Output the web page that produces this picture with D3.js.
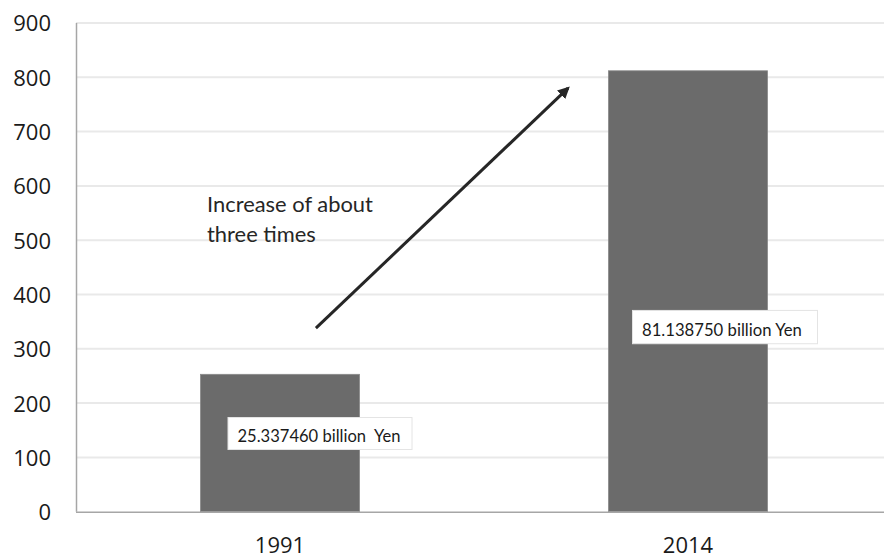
<!DOCTYPE html>
<html><head><meta charset="utf-8">
<script src="https://cdn.jsdelivr.net/npm/d3@7"></script>
<style>body{margin:0;background:#fff}svg{display:block}</style>
</head><body>
<svg id="c" width="884" height="558"></svg>
<script>
// ---- data ----
const categories = ["1991", "2014"];
const values = [253, 812];
const yTicks = [0, 100, 200, 300, 400, 500, 600, 700, 800, 900];
const barLabels = ["25.337460 billion  Yen", "81.138750 billion Yen"];
const barLabelValues = [144, 340];          // vertical centre of each label, in axis units
const annotationLines = ["Increase of about", "three times"];
const arrowFrom = {t: 0.088, v: 338};       // t: 0 = 1991 centre, 1 = 2014 centre
const arrowTo = {t: 0.706, v: 780};

// ---- layout ----
const svg = d3.select("#c");
const mLeft = 76, mTop = 23, mBottom = 511.7, mRight = 892;
const x = d3.scaleBand().domain(categories).range([mLeft, mRight]).paddingInner(0.61).paddingOuter(0.305);
const y = d3.scaleLinear().domain([0, 900]).range([mBottom, mTop]);
const cx = c => x(c) + x.bandwidth() / 2;
const tScale = d3.scaleLinear().domain([0, 1]).range([cx(categories[0]), cx(categories[1])]);

function fit(sel, w) {
  const n = sel.node(); const fs = parseFloat(sel.attr("font-size"));
  const len = n.getComputedTextLength();
  sel.attr("font-size", fs * w / len);
}

// gridlines
svg.append("g").selectAll("line").data(yTicks.filter(d => d > 0)).join("line")
  .attr("x1", mLeft).attr("x2", 884).attr("y1", d => y(d)).attr("y2", d => y(d))
  .attr("stroke", "#e9e9e9").attr("stroke-width", 2);

// y axis
const ya = svg.append("g").attr("transform", `translate(${mLeft},0)`)
  .call(d3.axisLeft(y).tickValues(yTicks).tickSize(0).tickPadding(25));
ya.select(".domain").attr("stroke", "#a6a6a6").attr("stroke-width", 1.5).attr("d", `M0.5,${mTop}V${mBottom}`);
ya.selectAll("text").attr("font-family", "'Open Sans'").attr("font-size", 22).attr("fill", "#1a1a1a").attr("dy", "0.36em");

// bars
svg.append("g").selectAll("rect").data(values).join("rect")
  .attr("x", (d, i) => x(categories[i])).attr("width", x.bandwidth())
  .attr("y", d => y(d)).attr("height", d => y(0) - y(d))
  .attr("fill", "#6b6b6b").attr("stroke", "#8a8a8a").attr("stroke-width", 0.8);

// x axis
const xa = svg.append("g").attr("transform", `translate(0,${mBottom})`)
  .call(d3.axisBottom(x).tickSize(0).tickPadding(26));
xa.select(".domain").attr("stroke", "#a6a6a6").attr("stroke-width", 1.5).attr("d", `M${mLeft},0.5H884`);
xa.selectAll("text").attr("font-family", "'Open Sans'").attr("font-size", 22).attr("fill", "#1a1a1a");

// bar labels
const boxW = [184, 185], boxH = [32, 33.3], txtW = [163, 160], offX = [40, 37];
barLabels.forEach((t, i) => {
  const bx = cx(categories[i]) + offX[i] - boxW[i] / 2;
  const by = y(barLabelValues[i]) - boxH[i] / 2;
  svg.append("rect").attr("x", bx).attr("y", by).attr("width", boxW[i]).attr("height", boxH[i])
    .attr("fill", "#fff").attr("stroke", "#e4e4e4").attr("stroke-width", 1);
  const tx = svg.append("text").attr("x", bx + 9.5).attr("y", by + boxH[i] - 8)
    .attr("font-family", "Lato").attr("font-size", 16).attr("fill", "#1a1a1a")
    .style("white-space", "pre").text(t);
  fit(tx, txtW[i]);
});

// annotation text
const ann = svg.append("g").attr("font-family", "Lato").attr("fill", "#262626");
const annTexts = ann.selectAll("text").data(annotationLines).join("text")
  .attr("x", 207).attr("y", (d, i) => 212.3 + i * 29.4).attr("font-size", 19).text(d => d);
fit(d3.select(annTexts.nodes()[0]), 166);
const fs0 = d3.select(annTexts.nodes()[0]).attr("font-size");
annTexts.attr("font-size", fs0);

// arrow
svg.append("defs").append("marker").attr("id", "ah").attr("viewBox", "0 0 10 10")
  .attr("refX", 8).attr("refY", 5).attr("markerWidth", 4).attr("markerHeight", 4)
  .attr("orient", "auto").attr("markerUnits", "strokeWidth")
  .append("path").attr("d", "M0,0L10,5L0,10z").attr("fill", "#262626");
svg.append("line")
  .attr("x1", tScale(arrowFrom.t)).attr("y1", y(arrowFrom.v))
  .attr("x2", tScale(arrowTo.t)).attr("y2", y(arrowTo.v))
  .attr("stroke", "#262626").attr("stroke-width", 3).attr("marker-end", "url(#ah)");
</script>
</body></html>
